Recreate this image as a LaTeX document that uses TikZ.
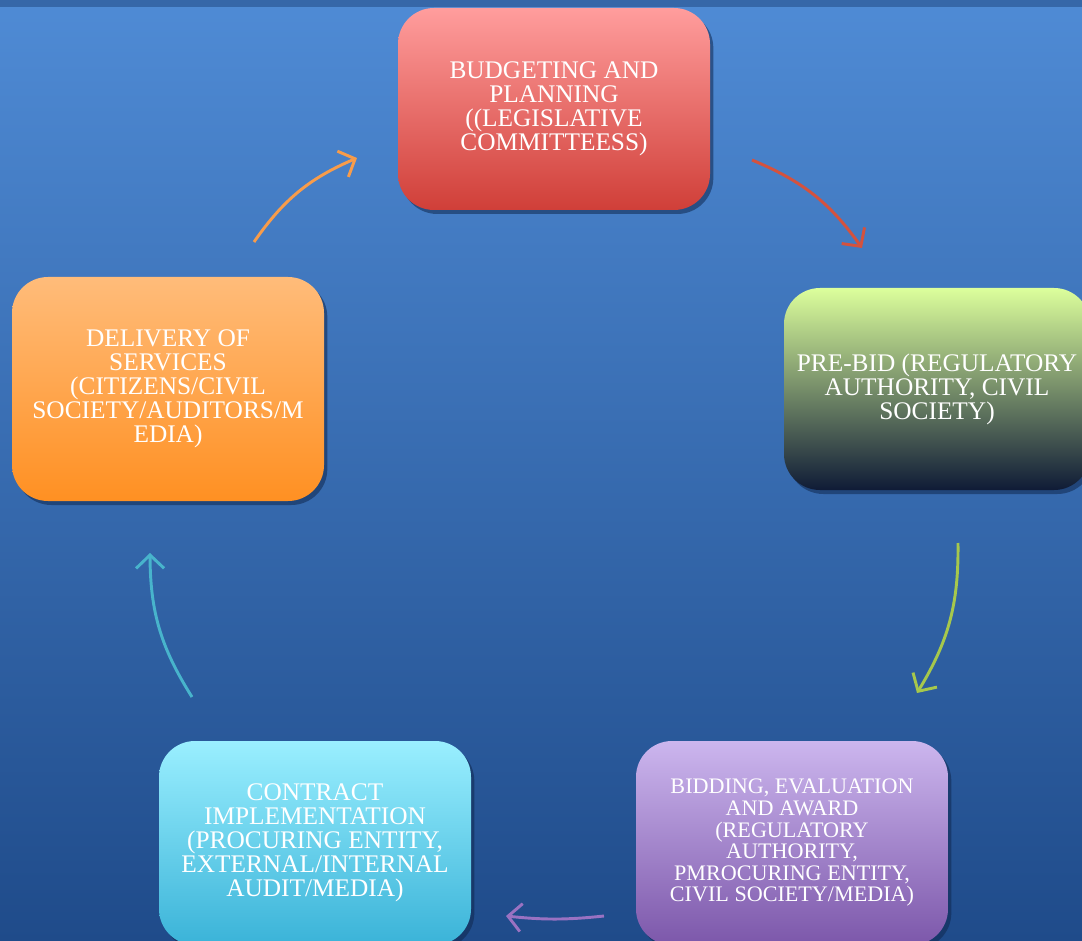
\documentclass[tikz,border=0pt]{standalone}
\usepackage{fontspec}
\setmainfont{Liberation Serif}
\usetikzlibrary{shadows,arrows.meta}
\definecolor{bgtop}{HTML}{4F8BD5}
\definecolor{bgbot}{HTML}{1F4B8A}
\definecolor{strip}{HTML}{3667A8}
\definecolor{shad}{HTML}{10284F}
\definecolor{arOrange}{HTML}{F89C4A}
\definecolor{arRed}{HTML}{D4523E}
\definecolor{arGreen}{HTML}{A6C84C}
\definecolor{arPurple}{HTML}{9A72C2}
\definecolor{arTeal}{HTML}{48B4CC}
\definecolor{redT}{HTML}{FF9D9D}
\definecolor{redB}{HTML}{D03F38}
\definecolor{grnT}{HTML}{DCFF9C}
\definecolor{grnM}{HTML}{9DB078}
\definecolor{grnB}{HTML}{0F1B36}
\definecolor{purT}{HTML}{CCB6EE}
\definecolor{purB}{HTML}{7C57AA}
\definecolor{cyaT}{HTML}{9AEFFF}
\definecolor{cyaB}{HTML}{3AB3D8}
\definecolor{oraT}{HTML}{FFBC7A}
\definecolor{oraB}{HTML}{FF9022}
\tikzset{
  stagebox/.style={rectangle, rounded corners=27pt, minimum width=234pt, minimum height=151.5pt,
    inner sep=0pt, align=center, text=white,
    font=\fontsize{19pt}{18pt}\selectfont,
    drop shadow={shadow xshift=2.5pt, shadow yshift=-3pt, opacity=0.55, fill=shad}},
  cyclearrow/.style={line width=2.2pt, -{Straight Barb[length=10pt, width=21pt, line width=2.2pt]}}
}
\begin{document}
\begin{tikzpicture}[x=0.75pt,y=0.75pt]
\useasboundingbox (0,0) rectangle (1082,-941);
\clip (0,0) rectangle (1082,-941);
\shade[top color=bgtop, bottom color=bgbot] (0,0) rectangle (1082,-941);
\fill[strip] (0,0) rectangle (1082,-7);

\node[stagebox, top color=redT, bottom color=redB] (budget) at (554,-109)
  {BUDGETING AND\\PLANNING\\((LEGISLATIVE\\COMMITTEESS)};
\node[stagebox, minimum width=229.5pt, top color=grnT, middle color=grnM, bottom color=grnB] (prebid) at (937,-389)
  {PRE-BID (REGULATORY\\AUTHORITY, CIVIL\\SOCIETY)};
\node[stagebox, minimum height=153pt, top color=purT, bottom color=purB,
  font=\fontsize{16.6pt}{16.2pt}\selectfont] (bidding) at (792,-843)
  {BIDDING, EVALUATION\\AND AWARD\\(REGULATORY\\AUTHORITY,\\PMROCURING ENTITY,\\CIVIL SOCIETY/MEDIA)};
\node[stagebox, minimum height=153pt, top color=cyaT, bottom color=cyaB] (contract) at (315,-843)
  {CONTRACT\\IMPLEMENTATION\\(PROCURING ENTITY,\\EXTERNAL/INTERNAL\\AUDIT/MEDIA)};
\node[stagebox, minimum height=168pt, top color=oraT, bottom color=oraB] (delivery) at (168,-389)
  {DELIVERY OF\\SERVICES\\(CITIZENS/CIVIL\\SOCIETY/AUDITORS/M\\EDIA)};

\coordinate (a1s) at (254,-242); \coordinate (a1e) at (357,-158);
\coordinate (a2s) at (752,-160); \coordinate (a2e) at (862,-248);
\coordinate (a3s) at (958,-543); \coordinate (a3e) at (917,-693);
\coordinate (a4s) at (604,-916); \coordinate (a4e) at (506,-916);
\coordinate (a5s) at (192,-697); \coordinate (a5e) at (150,-553);

\draw[cyclearrow, arOrange] (a1s) to[bend left=16] (a1e);
\draw[cyclearrow, arRed] (a2s) to[bend left=16] (a2e);
\draw[cyclearrow, arGreen] (a3s) to[bend left=16] (a3e);
\draw[cyclearrow, arPurple] (a4s) to[bend left=6] (a4e);
\draw[cyclearrow, arTeal] (a5s) to[bend left=16] (a5e);
\end{tikzpicture}
\end{document}
